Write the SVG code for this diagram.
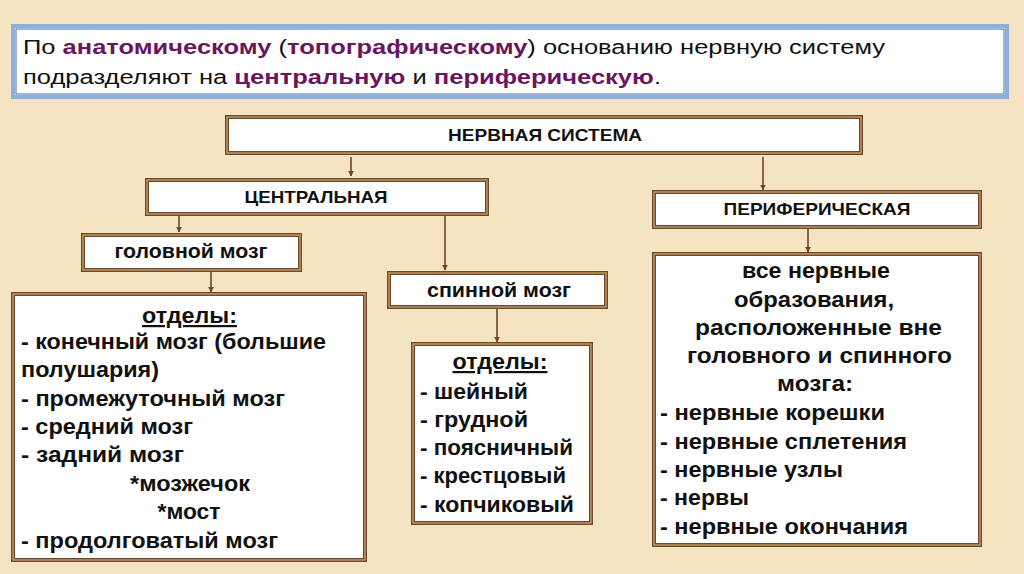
<svg xmlns="http://www.w3.org/2000/svg" width="1024" height="574" viewBox="0 0 1024 574">
<defs>
<style>
.bg{fill:#f4e4c1}
.frame{fill:#fff;stroke:#70492a;stroke-width:4}
.frame2{fill:none;stroke:#cfa775;stroke-width:1.2}
text{font-family:"Liberation Sans",Arial,sans-serif;fill:#111}
.lbl{font-weight:bold;font-size:17px;text-anchor:middle}
.lbl2{font-weight:bold;font-size:20px;text-anchor:middle}
.body{font-weight:bold;font-size:22px}
.mid{text-anchor:middle}
.top{font-size:20px}
.pp{font-weight:bold;fill:#6a165f}
.conn line{stroke:#6e4526;stroke-width:1.6}
</style>
<marker id="ah" viewBox="0 0 10 10" refX="9" refY="5" markerWidth="6" markerHeight="6" orient="auto" markerUnits="userSpaceOnUse">
<path d="M0,0 L10,5 L0,10 z" fill="#6e4526"/>
</marker>
</defs>
<rect class="bg" x="0" y="0" width="1024" height="574"/>

<g id="intro">
<rect x="13" y="26" width="994" height="71" fill="#fff" stroke="#8db0d8" stroke-width="4"/>
<rect x="16" y="29" width="988" height="65" fill="none" stroke="#3b6fb5" stroke-width="1"/>
<text class="top" x="23" y="54" textLength="862" lengthAdjust="spacingAndGlyphs">По <tspan class="pp">анатомическому</tspan> (<tspan class="pp">топографическому</tspan>) основанию нервную систему</text>
<text class="top" x="23" y="84" textLength="638" lengthAdjust="spacingAndGlyphs">подразделяют на <tspan class="pp">центральную</tspan> и <tspan class="pp">периферическую</tspan>.</text>
</g>

<g class="conn" id="connectors">
<line x1="351" y1="157" x2="351" y2="176" marker-end="url(#ah)"/>
<line x1="763" y1="157" x2="763" y2="190" marker-end="url(#ah)"/>
<line x1="179" y1="216" x2="179" y2="232" marker-end="url(#ah)"/>
<line x1="445" y1="216" x2="445" y2="270" marker-end="url(#ah)"/>
<line x1="211" y1="272" x2="211" y2="292" marker-end="url(#ah)"/>
<line x1="497" y1="309" x2="497" y2="342" marker-end="url(#ah)"/>
<line x1="808" y1="229" x2="808" y2="252" marker-end="url(#ah)"/>
</g>

<g id="ns">
<rect class="frame" x="227" y="117" width="634" height="36"/>
<rect class="frame2" x="227" y="117" width="634" height="36"/>
<text class="lbl" x="545" y="141" textLength="194" lengthAdjust="spacingAndGlyphs">НЕРВНАЯ СИСТЕМА</text>
</g>

<g id="central">
<rect class="frame" x="147" y="180" width="340" height="34"/>
<rect class="frame2" x="147" y="180" width="340" height="34"/>
<text class="lbl" x="316" y="203" textLength="143" lengthAdjust="spacingAndGlyphs">ЦЕНТРАЛЬНАЯ</text>
</g>

<g id="peripheral">
<rect class="frame" x="654" y="192" width="326" height="35"/>
<rect class="frame2" x="654" y="192" width="326" height="35"/>
<text class="lbl" x="817" y="215" textLength="187" lengthAdjust="spacingAndGlyphs">ПЕРИФЕРИЧЕСКАЯ</text>
</g>

<g id="brain">
<rect class="frame" x="83" y="235" width="217" height="35"/>
<rect class="frame2" x="83" y="235" width="217" height="35"/>
<text class="lbl2" x="191" y="258" textLength="153" lengthAdjust="spacingAndGlyphs">головной мозг</text>
</g>

<g id="spinal">
<rect class="frame" x="389" y="273" width="217" height="34"/>
<rect class="frame2" x="389" y="273" width="217" height="34"/>
<text class="lbl2" x="499" y="297" textLength="144" lengthAdjust="spacingAndGlyphs">спинной мозг</text>
</g>

<g id="brain-parts">
<rect class="frame" x="13" y="294" width="352" height="266"/>
<rect class="frame2" x="13" y="294" width="352" height="266"/>
<text class="body mid" x="189.5" y="323" text-decoration="underline" textLength="95" lengthAdjust="spacingAndGlyphs">отделы:</text>
<text class="body" x="21" y="349" textLength="305" lengthAdjust="spacingAndGlyphs">- конечный мозг (большие</text>
<text class="body" x="21" y="377" textLength="138" lengthAdjust="spacingAndGlyphs">полушария)</text>
<text class="body" x="21" y="406" textLength="264" lengthAdjust="spacingAndGlyphs">- промежуточный мозг</text>
<text class="body" x="21" y="434" textLength="172" lengthAdjust="spacingAndGlyphs">- средний мозг</text>
<text class="body" x="21" y="462" textLength="163" lengthAdjust="spacingAndGlyphs">- задний мозг</text>
<text class="body mid" x="190" y="491" textLength="120" lengthAdjust="spacingAndGlyphs">*мозжечок</text>
<text class="body mid" x="189" y="519" textLength="63" lengthAdjust="spacingAndGlyphs">*мост</text>
<text class="body" x="21" y="548" textLength="257" lengthAdjust="spacingAndGlyphs">- продолговатый мозг</text>
</g>

<g id="spinal-parts">
<rect class="frame" x="413" y="344" width="178" height="179"/>
<rect class="frame2" x="413" y="344" width="178" height="179"/>
<text class="body mid" x="500" y="369" text-decoration="underline" textLength="95" lengthAdjust="spacingAndGlyphs">отделы:</text>
<text class="body" x="420" y="399" textLength="108" lengthAdjust="spacingAndGlyphs">- шейный</text>
<text class="body" x="420" y="427" textLength="108" lengthAdjust="spacingAndGlyphs">- грудной</text>
<text class="body" x="420" y="455" textLength="153" lengthAdjust="spacingAndGlyphs">- поясничный</text>
<text class="body" x="420" y="483" textLength="146" lengthAdjust="spacingAndGlyphs">- крестцовый</text>
<text class="body" x="420" y="512" textLength="154" lengthAdjust="spacingAndGlyphs">- копчиковый</text>
</g>

<g id="peripheral-parts">
<rect class="frame" x="654" y="254" width="326" height="291"/>
<rect class="frame2" x="654" y="254" width="326" height="291"/>
<text class="body mid" x="816" y="278" textLength="148" lengthAdjust="spacingAndGlyphs">все нервные</text>
<text class="body mid" x="814" y="307" textLength="160" lengthAdjust="spacingAndGlyphs">образования,</text>
<text class="body mid" x="818.5" y="335" textLength="247" lengthAdjust="spacingAndGlyphs">расположенные вне</text>
<text class="body mid" x="819.5" y="363" textLength="265" lengthAdjust="spacingAndGlyphs">головного и спинного</text>
<text class="body mid" x="815" y="391" textLength="76" lengthAdjust="spacingAndGlyphs">мозга:</text>
<text class="body" x="660" y="420" textLength="225" lengthAdjust="spacingAndGlyphs">- нервные корешки</text>
<text class="body" x="660" y="449" textLength="247" lengthAdjust="spacingAndGlyphs">- нервные сплетения</text>
<text class="body" x="660" y="477" textLength="183" lengthAdjust="spacingAndGlyphs">- нервные узлы</text>
<text class="body" x="660" y="505" textLength="89" lengthAdjust="spacingAndGlyphs">- нервы</text>
<text class="body" x="660" y="534" textLength="248" lengthAdjust="spacingAndGlyphs">- нервные окончания</text>
</g>
</svg>
